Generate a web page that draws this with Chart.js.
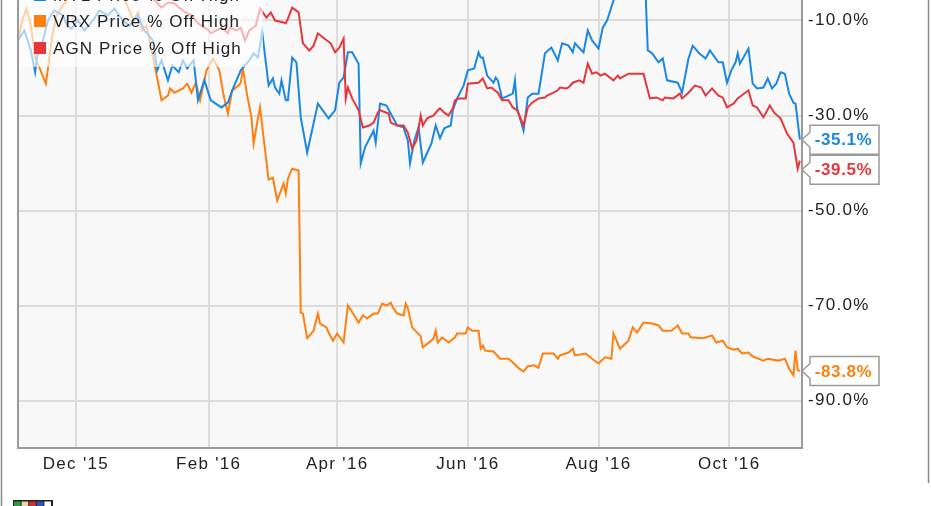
<!DOCTYPE html>
<html><head><meta charset="utf-8">
<script src="https://cdn.jsdelivr.net/npm/chart.js@4"></script>
<style>
html,body{margin:0;padding:0;background:#fff;overflow:hidden;width:931px;height:506px;}
#wrap{position:absolute;left:0;top:-32px;width:931px;height:538px;}
canvas{display:block;}
</style></head><body>
<div id="wrap"><canvas id="c" width="931" height="538"></canvas></div>
<script>
// ---------- DATA ----------
const seriesNames = ["MYL Price % Off High", "VRX Price % Off High", "AGN Price % Off High"];
const tickDates  = ["2015-12-01","2016-02-01","2016-04-01","2016-06-01","2016-08-01","2016-10-01"];
const tickLabels = ["Dec '15","Feb '16","Apr '16","Jun '16","Aug '16","Oct '16"];
const yTicks = [-90,-70,-50,-30,-10];
const rangeStart = "2015-11-04", rangeEnd = "2016-11-04";

const mylDates = ["2015-11-04","2015-11-07","2015-11-10","2015-11-12","2015-11-13","2015-11-15","2015-11-18","2015-11-21","2015-11-25","2015-11-27","2015-11-29","2015-12-02","2015-12-05","2015-12-09","2015-12-12","2015-12-16","2015-12-19","2015-12-23","2015-12-26","2015-12-30","2016-01-02","2016-01-06","2016-01-08","2016-01-10","2016-01-13","2016-01-15","2016-01-18","2016-01-20","2016-01-22","2016-01-25","2016-01-27","2016-01-30","2016-02-02","2016-02-07","2016-02-10","2016-02-12","2016-02-16","2016-02-20","2016-02-22","2016-02-24","2016-02-26","2016-02-28","2016-02-29","2016-03-02","2016-03-03","2016-03-05","2016-03-06","2016-03-08","2016-03-09","2016-03-11","2016-03-13","2016-03-15","2016-03-18","2016-03-23","2016-03-28","2016-03-31","2016-04-02","2016-04-04","2016-04-06","2016-04-08","2016-04-11","2016-04-12","2016-04-14","2016-04-18","2016-04-19","2016-04-21","2016-04-24","2016-04-27","2016-04-29","2016-05-02","2016-05-04","2016-05-05","2016-05-07","2016-05-09","2016-05-11","2016-05-15","2016-05-17","2016-05-19","2016-05-21","2016-05-24","2016-05-25","2016-05-27","2016-05-30","2016-06-01","2016-06-04","2016-06-06","2016-06-07","2016-06-08","2016-06-10","2016-06-13","2016-06-14","2016-06-15","2016-06-17","2016-06-20","2016-06-22","2016-06-23","2016-06-24","2016-06-27","2016-06-29","2016-07-01","2016-07-04","2016-07-07","2016-07-10","2016-07-13","2016-07-15","2016-07-18","2016-07-20","2016-07-21","2016-07-25","2016-07-27","2016-07-29","2016-08-01","2016-08-03","2016-08-05","2016-08-08","2016-08-10","2016-08-12","2016-08-15","2016-08-17","2016-08-19","2016-08-22","2016-08-23","2016-08-24","2016-08-26","2016-08-29","2016-08-31","2016-09-02","2016-09-07","2016-09-09","2016-09-12","2016-09-14","2016-09-17","2016-09-20","2016-09-22","2016-09-26","2016-09-28","2016-09-30","2016-10-02","2016-10-04","2016-10-05","2016-10-06","2016-10-10","2016-10-12","2016-10-14","2016-10-17","2016-10-19","2016-10-21","2016-10-23","2016-10-25","2016-10-27","2016-10-29","2016-10-31","2016-11-01","2016-11-03"];
const mylValues = [-14.2,-12.1,-16.3,-20.9,-17.4,-15.3,-10.0,-7.9,-8.9,-11.1,-11.7,-10.0,-12.1,-10.0,-7.9,-8.9,-7.5,-10.0,-11.1,-8.9,-12.1,-14.2,-20.5,-18.4,-22.6,-19.5,-20.9,-18.4,-20.1,-18.4,-26.8,-22.6,-26.8,-28.3,-27.3,-24.7,-20.5,-18.4,-16.9,-17.8,-12.5,-19.9,-23.7,-22.2,-24.1,-25.4,-22.6,-26.8,-26.8,-17.8,-18.8,-30.4,-37.8,-27.5,-30.6,-28.9,-23.1,-22.0,-16.7,-16.7,-19.1,-40.1,-36.7,-33.2,-35.7,-27.5,-27.9,-30.4,-32.1,-32.5,-35.3,-40.1,-35.3,-32.5,-39.9,-35.9,-32.1,-34.8,-32.7,-32.1,-28.9,-26.4,-23.7,-20.5,-20.1,-16.7,-17.8,-17.8,-21.6,-23.1,-22.0,-22.6,-26.4,-25.8,-25.4,-22.6,-28.5,-33.2,-26.2,-25.4,-25.4,-16.9,-15.7,-18.4,-14.8,-15.3,-16.7,-14.8,-16.7,-12.1,-14.2,-15.9,-11.5,-10.0,-5.8,-4.0,-2.5,-1.0,0,-1.5,-3.0,-4.5,-16.3,-16.9,-18.8,-18.0,-22.6,-23.1,-25.2,-18.0,-15.3,-16.9,-18.0,-16.3,-18.8,-18.8,-23.1,-20.5,-18.8,-16.9,-19.1,-15.9,-23.3,-24.3,-24.1,-22.2,-24.3,-23.3,-20.9,-21.2,-25.4,-27.3,-27.5,-35.1];

const vrxDates = ["2015-11-04","2015-11-06","2015-11-08","2015-11-10","2015-11-12","2015-11-14","2015-11-17","2015-11-18","2015-11-20","2015-11-22","2015-11-25","2015-11-30","2015-12-03","2015-12-07","2015-12-10","2015-12-14","2015-12-17","2015-12-21","2015-12-25","2015-12-28","2015-12-30","2016-01-01","2016-01-03","2016-01-05","2016-01-07","2016-01-10","2016-01-13","2016-01-14","2016-01-16","2016-01-20","2016-01-22","2016-01-24","2016-01-26","2016-01-28","2016-01-31","2016-02-03","2016-02-06","2016-02-08","2016-02-10","2016-02-12","2016-02-15","2016-02-16","2016-02-17","2016-02-19","2016-02-21","2016-02-22","2016-02-24","2016-02-25","2016-02-27","2016-02-29","2016-03-02","2016-03-04","2016-03-07","2016-03-08","2016-03-09","2016-03-11","2016-03-14","2016-03-15","2016-03-16","2016-03-18","2016-03-21","2016-03-23","2016-03-24","2016-03-27","2016-03-28","2016-03-30","2016-04-01","2016-04-04","2016-04-06","2016-04-09","2016-04-11","2016-04-13","2016-04-15","2016-04-18","2016-04-20","2016-04-22","2016-04-24","2016-04-26","2016-04-27","2016-04-29","2016-05-02","2016-05-03","2016-05-04","2016-05-06","2016-05-10","2016-05-11","2016-05-15","2016-05-16","2016-05-17","2016-05-18","2016-05-20","2016-05-23","2016-05-26","2016-05-27","2016-05-31","2016-06-01","2016-06-03","2016-06-06","2016-06-07","2016-06-08","2016-06-09","2016-06-13","2016-06-16","2016-06-20","2016-06-22","2016-06-25","2016-06-27","2016-06-29","2016-07-02","2016-07-04","2016-07-06","2016-07-10","2016-07-11","2016-07-13","2016-07-14","2016-07-18","2016-07-20","2016-07-21","2016-07-26","2016-07-29","2016-08-01","2016-08-04","2016-08-07","2016-08-08","2016-08-11","2016-08-15","2016-08-17","2016-08-19","2016-08-22","2016-08-26","2016-08-29","2016-08-31","2016-09-04","2016-09-07","2016-09-09","2016-09-12","2016-09-13","2016-09-19","2016-09-23","2016-09-25","2016-09-28","2016-09-30","2016-10-03","2016-10-05","2016-10-07","2016-10-10","2016-10-12","2016-10-17","2016-10-19","2016-10-24","2016-10-27","2016-10-29","2016-10-31","2016-11-01","2016-11-02","2016-11-03"];
const vrxValues = [-14.2,-10.0,-7.5,-11.1,-17.8,-19.9,-23.3,-20.1,-13.2,-8.9,-6.8,-4.0,-2.0,0,-3.0,-1.0,-4.0,-3.0,-6.8,-10.0,-8.3,-12.1,-11.1,-15.3,-19.9,-26.8,-25.8,-24.3,-25.2,-24.3,-23.3,-25.2,-23.1,-26.8,-20.5,-18.0,-20.5,-25.8,-29.6,-24.7,-23.7,-23.1,-20.1,-25.8,-30.4,-35.9,-30.6,-28.3,-36.0,-43.5,-43.1,-47.9,-44.3,-46.4,-43.3,-41.2,-41.6,-71.5,-71.7,-76.9,-75.3,-71.7,-73.8,-74.6,-75.7,-77.4,-75.9,-77.8,-70.0,-72.1,-73.6,-72.1,-72.7,-71.7,-71.7,-69.6,-70.0,-69.4,-70.4,-71.7,-72.1,-69.6,-70.6,-74.6,-76.5,-78.8,-77.4,-76.9,-75.3,-77.8,-76.7,-77.8,-76.7,-75.9,-75.9,-74.6,-75.3,-75.3,-79.1,-78.4,-79.5,-79.7,-81.2,-81.2,-82.0,-83.3,-83.9,-82.8,-82.6,-83.1,-80.1,-80.1,-80.1,-81.2,-80.5,-79.9,-79.1,-80.5,-80.1,-81.2,-82.2,-80.9,-81.2,-75.9,-79.1,-77.4,-74.6,-75.7,-73.6,-73.8,-74.2,-75.3,-75.3,-74.2,-75.9,-75.9,-76.7,-76.9,-76.3,-77.8,-77.4,-78.8,-79.3,-79.1,-80.1,-79.9,-80.7,-81.6,-81.2,-81.6,-81.2,-83.3,-84.7,-79.5,-83.6,-83.8];

const agnDates = ["2015-11-04","2015-11-09","2015-11-13","2015-11-18","2015-11-23","2015-11-30","2015-12-04","2015-12-09","2015-12-14","2015-12-18","2015-12-23","2015-12-29","2016-01-03","2016-01-07","2016-01-10","2016-01-13","2016-01-16","2016-01-21","2016-01-24","2016-01-27","2016-02-01","2016-02-02","2016-02-07","2016-02-10","2016-02-11","2016-02-14","2016-02-16","2016-02-18","2016-02-20","2016-02-23","2016-02-25","2016-02-28","2016-03-01","2016-03-03","2016-03-07","2016-03-08","2016-03-09","2016-03-11","2016-03-14","2016-03-15","2016-03-16","2016-03-19","2016-03-21","2016-03-23","2016-03-26","2016-03-29","2016-03-31","2016-04-02","2016-04-04","2016-04-05","2016-04-06","2016-04-08","2016-04-11","2016-04-13","2016-04-16","2016-04-18","2016-04-20","2016-04-21","2016-04-25","2016-04-26","2016-04-29","2016-05-02","2016-05-04","2016-05-06","2016-05-08","2016-05-10","2016-05-11","2016-05-13","2016-05-16","2016-05-18","2016-05-19","2016-05-21","2016-05-23","2016-05-25","2016-05-26","2016-05-28","2016-05-31","2016-06-01","2016-06-06","2016-06-08","2016-06-10","2016-06-12","2016-06-15","2016-06-17","2016-06-20","2016-06-22","2016-06-24","2016-06-27","2016-06-29","2016-07-01","2016-07-04","2016-07-07","2016-07-08","2016-07-11","2016-07-13","2016-07-14","2016-07-17","2016-07-18","2016-07-20","2016-07-23","2016-07-25","2016-07-27","2016-07-29","2016-07-31","2016-08-02","2016-08-04","2016-08-08","2016-08-10","2016-08-11","2016-08-15","2016-08-18","2016-08-22","2016-08-25","2016-08-28","2016-08-31","2016-09-01","2016-09-05","2016-09-08","2016-09-09","2016-09-12","2016-09-15","2016-09-18","2016-09-20","2016-09-23","2016-09-26","2016-09-28","2016-09-30","2016-10-03","2016-10-05","2016-10-10","2016-10-12","2016-10-14","2016-10-17","2016-10-20","2016-10-22","2016-10-25","2016-10-28","2016-10-31","2016-11-02","2016-11-03"];
const agnValues = [-3.0,-5.0,-2.0,-4.0,-1.5,-3.0,0,-2.0,-4.0,-2.5,-1.0,-2.0,-4.0,-5.8,-7.3,-6.2,-6.4,-8.3,-8.9,-10.6,-12.1,-12.7,-11.5,-12.7,-11.5,-12.1,-11.5,-14.2,-12.1,-11.1,-7.5,-9.4,-8.3,-10.0,-10.4,-10.6,-9.6,-7.3,-8.3,-11.5,-14.8,-16.3,-15.3,-12.7,-13.8,-14.8,-16.7,-15.7,-13.8,-26.4,-24.1,-26.4,-28.9,-32.5,-32.1,-31.5,-29.4,-28.9,-29.6,-31.5,-32.1,-32.1,-33.6,-36.9,-35.3,-30.0,-32.1,-30.6,-30.0,-28.9,-28.5,-29.4,-30.0,-28.5,-26.8,-26.4,-26.4,-23.3,-23.1,-22.2,-24.3,-24.1,-25.2,-26.8,-26.8,-28.3,-28.9,-32.1,-28.3,-27.3,-26.4,-26.2,-25.8,-25.2,-24.7,-24.1,-24.3,-24.1,-23.1,-22.6,-23.1,-19.1,-21.2,-20.9,-21.6,-21.2,-22.6,-21.6,-22.2,-21.2,-21.2,-21.2,-26.4,-26.2,-26.8,-26.2,-26.4,-25.4,-26.4,-25.2,-23.7,-24.1,-25.8,-24.3,-25.8,-26.2,-28.3,-27.5,-26.4,-24.7,-27.9,-28.3,-30.4,-27.9,-29.4,-30.6,-33.8,-35.7,-41.2,-39.5];

// ---------- CHART ----------
const OFFSET = 32;            // canvas extends above the visible window
const FONT = '"Liberation Sans", Arial, sans-serif';
const COLORS = { myl: '#1a87e5', vrx: '#ff7f0f', agn: '#e6363c' };
const toMs = s => { const p = s.split('-').map(Number); return Date.UTC(p[0], p[1]-1, p[2]); };
const pts = (dates, vals) => dates.map((d, i) => ({ x: toMs(d), y: vals[i] }));
const pct = v => v.toFixed(1) + '%';

const bgPlugin = {
  id: 'bg',
  beforeDraw(chart) {
    const { ctx, chartArea: a } = chart;
    ctx.save();
    ctx.fillStyle = '#f8f8f8';
    ctx.fillRect(a.left, a.top, a.right - a.left, a.bottom - a.top);
    ctx.restore();
    ctx.letterSpacing = '1.3px';
  }
};

const overlayPlugin = {
  id: 'overlay',
  afterDatasetsDraw(chart) {
    const { ctx, chartArea: a } = chart;
    ctx.save();
    ctx.letterSpacing = '1.1px';
    ctx.fillStyle = 'rgba(255,255,255,0.62)';
    ctx.fillRect(a.left + 1, a.top, 262 - a.left, 67 + OFFSET - a.top);
    const rows = [
      { name: seriesNames[0], color: COLORS.myl, y: -5 },
      { name: seriesNames[1], color: COLORS.vrx, y: 21 },
      { name: seriesNames[2], color: COLORS.agn, y: 48 }
    ];
    ctx.font = '17px ' + FONT;
    ctx.textBaseline = 'middle';
    ctx.textAlign = 'left';
    rows.forEach(r => {
      const cy = r.y + OFFSET;
      ctx.fillStyle = r.color;
      ctx.fillRect(34, cy - 6, 12, 12);
      ctx.fillStyle = '#222';
      ctx.fillText(r.name, 53, cy + 1);
    });
    ctx.restore();
  },
  afterDraw(chart) {
    const { ctx, chartArea: a } = chart;
    ctx.save();
    ctx.strokeStyle = '#9a9a9a'; ctx.lineWidth = 2;
    ctx.beginPath(); ctx.moveTo(a.left, 0); ctx.lineTo(a.left, a.bottom); ctx.stroke();
    ctx.strokeStyle = '#8a8a8a'; ctx.lineWidth = 1.5;
    ctx.beginPath(); ctx.moveTo(1.5, 0); ctx.lineTo(1.5, chart.height); ctx.stroke();
    ctx.beginPath(); ctx.moveTo(928.5, 0); ctx.lineTo(928.5, 483 + OFFSET); ctx.stroke();
    const items = chart.data.datasets.map((ds, i) => {
      const meta = chart.getDatasetMeta(i);
      const last = meta.data[meta.data.length - 1];
      return { y: last.y, v: ds.data[ds.data.length - 1].y, color: ds.borderColor };
    }).sort((p, q) => p.y - q.y);
    const H = 29, W = 69, x0 = a.right + 8;
    let prevBottom = -Infinity;
    items.forEach(it => {
      let cy = it.y;
      if (cy - H / 2 < prevBottom + 1) cy = prevBottom + 1 + H / 2;
      prevBottom = cy + H / 2;
      const top = cy - H / 2, bot = cy + H / 2;
      ctx.beginPath();
      ctx.moveTo(x0, top); ctx.lineTo(x0 + W, top); ctx.lineTo(x0 + W, bot); ctx.lineTo(x0, bot);
      ctx.lineTo(x0, cy + 7.5); ctx.lineTo(a.right, cy); ctx.lineTo(x0, cy - 7.5); ctx.closePath();
      ctx.fillStyle = '#fff'; ctx.fill();
      ctx.strokeStyle = '#9a9a9a'; ctx.lineWidth = 1.5; ctx.stroke();
      ctx.font = 'bold 17px ' + FONT;
      ctx.letterSpacing = '0.6px';
      ctx.fillStyle = it.color;
      ctx.textAlign = 'center'; ctx.textBaseline = 'middle';
      ctx.fillText(pct(it.v), x0 + W / 2 - 1, cy + 1);
    });
    const ly = 500 + OFFSET;
    ctx.fillStyle = '#222'; ctx.fillRect(13, ly, 40, 8);
    const cols = ['#2e9b3e', '#e8d9a0', '#d62f2f', '#2857b8', '#ffffff'];
    cols.forEach((c, i) => { ctx.fillStyle = c; ctx.fillRect(14 + i * 7.6, ly + 1.5, 6.6, 7); });
    ctx.restore();
  }
};

new Chart(document.getElementById('c'), {
  type: 'line',
  data: {
    datasets: [
      { label: seriesNames[2], data: pts(agnDates, agnValues), borderColor: COLORS.agn },
      { label: seriesNames[0], data: pts(mylDates, mylValues), borderColor: COLORS.myl },
      { label: seriesNames[1], data: pts(vrxDates, vrxValues), borderColor: COLORS.vrx }
    ]
  },
  options: {
    responsive: false,
    animation: false,
    devicePixelRatio: 1,
    layout: { padding: { left: 18, top: 5, right: 0, bottom: 0 } },
    elements: { point: { radius: 0 }, line: { borderWidth: 2, tension: 0 } },
    plugins: { legend: { display: false }, tooltip: { enabled: false } },
    scales: {
      x: {
        type: 'linear',
        min: toMs(rangeStart), max: toMs(rangeEnd),
        afterBuildTicks: s => { s.ticks = tickDates.map(d => ({ value: toMs(d) })); },
        afterFit: s => { s.height = 58; s.paddingLeft = 0; s.paddingRight = 0; },
        grid: { color: '#dcdcdc', lineWidth: 2, drawTicks: false },
        border: { display: true, color: '#9a9a9a', width: 2 },
        ticks: { padding: 6, color: '#222', autoSkip: false, maxRotation: 0,
                 font: { family: FONT, size: 17 },
                 callback: (v, i) => tickLabels[i] }
      },
      y: {
        position: 'right',
        min: -100, max: 0,
        afterBuildTicks: s => { s.ticks = yTicks.map(v => ({ value: v })); },
        afterFit: s => { s.width = 129; s.paddingTop = 0; s.paddingBottom = 0; },
        grid: { color: '#dcdcdc', lineWidth: 2, drawTicks: false },
        border: { display: true, color: '#9a9a9a', width: 2 },
        ticks: { padding: 6, color: '#222', font: { family: FONT, size: 17 },
                 callback: v => pct(v) }
      }
    }
  },
  plugins: [bgPlugin, overlayPlugin]
});
</script>
</body></html>
